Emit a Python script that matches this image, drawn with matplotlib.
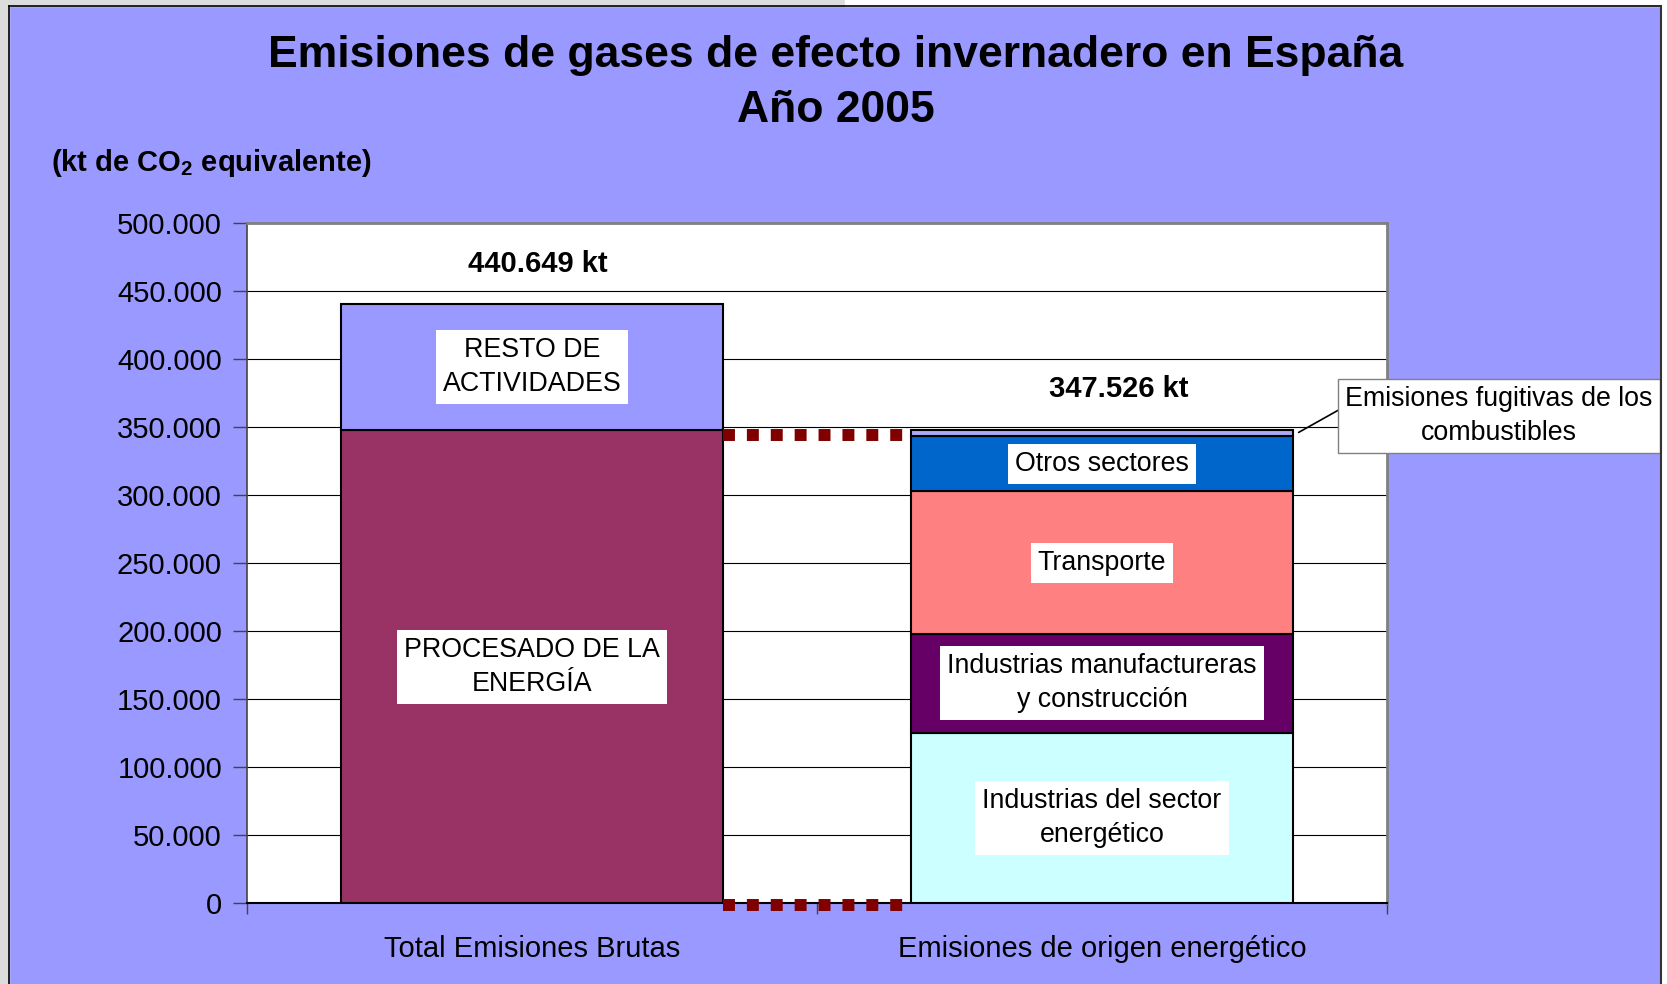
import matplotlib.pyplot as plt
from matplotlib.patches import Rectangle
from matplotlib.lines import Line2D

plt.rcParams['font.family'] = ['Liberation Sans', 'DejaVu Sans']
plt.rcParams['mathtext.fontset'] = 'custom'
plt.rcParams['mathtext.rm'] = 'Liberation Sans'
plt.rcParams['mathtext.bf'] = 'Liberation Sans:bold'

# datos (kt de CO2 equivalente)
categorias = ['Total Emisiones Brutas', 'Emisiones de origen energético']
totales = [440649, 347526]

bar1_nombres = ['PROCESADO DE LA\nENERGÍA', 'RESTO DE\nACTIVIDADES']
bar1_valores = [347526, 93123]
bar1_colores = ['#993366', '#9999FF']

bar2_nombres = ['Industrias del sector\nenergético', 'Industrias manufactureras\ny construcción',
                'Transporte', 'Otros sectores', 'Emisiones fugitivas de los\ncombustibles']
bar2_valores = [125200, 72700, 104700, 40700, 4226]
bar2_colores = ['#CCFFFF', '#660066', '#FF8080', '#0066CC', '#AAAAF5']

yticks = list(range(0, 500001, 50000))
ytick_labels = ['{:,}'.format(v).replace(',', '.') for v in yticks]

W, H = 1667, 984
fig = plt.figure(figsize=(W / 100, H / 100), dpi=100)
fig.patch.set_facecolor('#9999FF')

# marco de la hoja (gris / blanco alrededor)
def px_rect(x0, y0, x1, y1, color):
    fig.patches.append(Rectangle((x0 / W, 1 - y1 / H), (x1 - x0) / W, (y1 - y0) / H,
                                 transform=fig.transFigure, color=color, zorder=0))

px_rect(0, 0, 845, 6, '#DCDCDC')
px_rect(845, 0, W, 6, 'white')
px_rect(0, 0, 9, H, '#DCDCDC')
px_rect(1661, 0, W, H, 'white')
fig.lines.append(Line2D([9 / W, 1661 / W], [1 - 6 / H, 1 - 6 / H], transform=fig.transFigure, color='black', lw=1.2))
fig.lines.append(Line2D([9 / W, 9 / W], [0, 1 - 6 / H], transform=fig.transFigure, color='black', lw=1.2))
fig.lines.append(Line2D([1661 / W, 1661 / W], [0, 1 - 6 / H], transform=fig.transFigure, color='#333333', lw=1.5))

ax = fig.add_axes([247 / W, 1 - 903 / H, (1387 - 247) / W, (903 - 223) / H])
ax.set_facecolor('white')
ax.set_xlim(-0.5, 1.5)
ax.set_ylim(0, 500000)

ancho = 0.67
caja = dict(facecolor='white', edgecolor='none', pad=5)

# barra 1
base = 0
for nombre, v, c in zip(bar1_nombres, bar1_valores, bar1_colores):
    ax.bar(0, v, bottom=base, width=ancho, color=c, edgecolor='black', linewidth=1.5, zorder=3)
    ax.text(0, base + v / 2, nombre, ha='center', va='center', fontsize=19.3,
            linespacing=1.4, bbox=caja, zorder=5)
    base += v

# barra 2
base = 0
for i, (nombre, v, c) in enumerate(zip(bar2_nombres, bar2_valores, bar2_colores)):
    ax.bar(1, v, bottom=base, width=ancho, color=c, edgecolor='black', linewidth=1.5, zorder=3)
    if i < 4:
        ax.text(1, base + v / 2, nombre, ha='center', va='center', fontsize=19.3,
                linespacing=1.4, bbox=caja, zorder=5)
    base += v

# etiqueta emisiones fugitivas (fuera del area)
ax.annotate(bar2_nombres[4], xy=(1 + ancho / 2 + 0.01, totales[1] - 1500),
            xycoords='data', xytext=(1499 / W, 1 - 416 / H), textcoords='figure fraction',
            ha='center', va='center', fontsize=19.3, linespacing=1.4,
            bbox=dict(facecolor='white', edgecolor='#808080', linewidth=1, pad=5),
            arrowprops=dict(arrowstyle='-', color='black', lw=1.2, shrinkA=0, shrinkB=0,
                            relpos=(0.02, 0.72)),
            annotation_clip=False, zorder=6)

# totales
ax.text(0.01, 469500, '{:,} kt'.format(totales[0]).replace(',', '.'), ha='center', va='center',
        fontsize=21, fontweight='bold', zorder=5)
ax.text(1.03, 377600, '{:,} kt'.format(totales[1]).replace(',', '.'), ha='center', va='center',
        fontsize=21, fontweight='bold', zorder=5)

# lineas de union punteadas
for yv in [totales[1] - 3500, -1500]:
    ax.plot([ancho / 2, 1 - ancho / 2], [yv, yv], color='#800000', lw=8.6,
            linestyle=(0, (1, 1)), solid_capstyle='butt', dash_capstyle='butt',
            zorder=4, clip_on=False)

# rejilla y ejes
ax.set_yticks(yticks)
ax.set_yticklabels(ytick_labels, fontsize=21)
ax.yaxis.grid(True, color='black', linewidth=0.8, zorder=1)
ax.set_axisbelow(True)
ax.set_xticks([-0.5, 0.5, 1.5])
ax.set_xticklabels([])
ax.set_xticks([0, 1], minor=True)
ax.set_xticklabels(categorias, minor=True, fontsize=21)
ax.tick_params(axis='x', which='minor', length=0, pad=23)
ax.tick_params(axis='x', which='major', length=8, width=1, color='#444444', direction='out')
ax.tick_params(axis='y', length=10, width=1, color='#444444', direction='out', pad=8)
for s in ['top', 'right']:
    ax.spines[s].set_color('#808080')
    ax.spines[s].set_linewidth(2)
ax.spines['left'].set_color('#444444')
ax.spines['left'].set_linewidth(1.2)
ax.spines['bottom'].set_color('black')
ax.spines['bottom'].set_linewidth(1.5)

# titulos
fig.text(836 / W, 1 - 55 / H, 'Emisiones de gases de efecto invernadero en España',
         ha='center', va='center', fontsize=32, fontweight='bold')
fig.text(836 / W, 1 - 110 / H, 'Año 2005', ha='center', va='center', fontsize=32, fontweight='bold')
fig.text(51 / W, 1 - 163 / H, r'(kt de CO$_\mathbf{2}$ equivalente)', ha='left', va='center',
         fontsize=21, fontweight='bold')

fig.savefig('out.png', dpi=100, facecolor=fig.get_facecolor())
